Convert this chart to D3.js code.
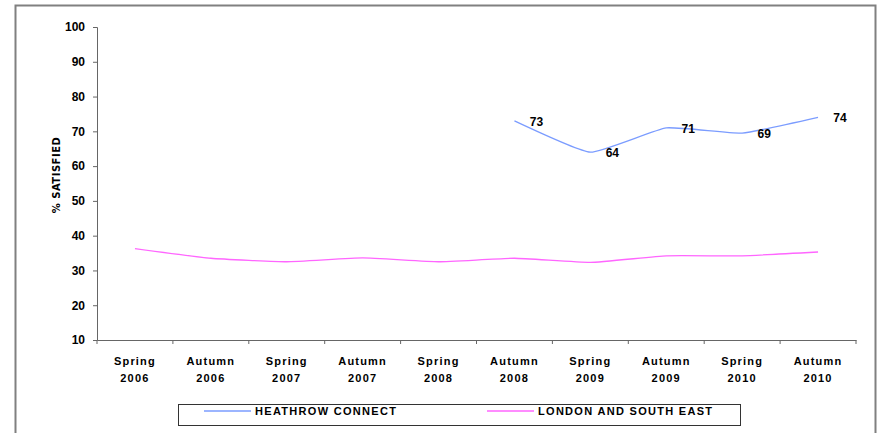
<!DOCTYPE html>
<html>
<head>
<meta charset="utf-8">
<script src="https://cdn.jsdelivr.net/npm/d3@7"></script>
<style>
  body { margin: 0; background: #fff; }
  svg { display: block; }
</style>
</head>
<body>
<div id="chart"></div>
<script>
var w = 882;
var h = 433;

// data
var seasons = ["Spring", "Autumn", "Spring", "Autumn", "Spring", "Autumn", "Spring", "Autumn", "Spring", "Autumn"];
var years = ["2006", "2006", "2007", "2007", "2008", "2008", "2009", "2009", "2010", "2010"];
var heathrowConnect = [null, null, null, null, null, 73, 64, 71, 69.5, 74];
var heathrowLabels = [null, null, null, null, null, "73", "64", "71", "69", "74"];
var londonSouthEast = [36.3, 33.5, 32.5, 33.6, 32.5, 33.5, 32.3, 34.2, 34.2, 35.3];
var yTicks = [10, 20, 30, 40, 50, 60, 70, 80, 90, 100];
var seriesNames = ["HEATHROW CONNECT", "LONDON AND SOUTH EAST"];
var seriesColors = ["#7b9cff", "#ff66ff"];

var margin = {left: 97, right: 26, top: 27, bottom: 93};
var iw = w - margin.left - margin.right; // plot width
var ih = h - margin.top - margin.bottom;

var svg = d3.select("#chart").append("svg").attr("width", w).attr("height", h);

// outer frame (no bottom edge visible)
svg.append("path")
    .attr("d", "M15.5,440 L15.5,5.5 L875.5,5.5 L875.5,440")
    .attr("fill", "none")
    .attr("stroke", "#808080")
    .attr("stroke-width", 2);

var idx = d3.range(seasons.length);
var x = d3.scaleBand().domain(idx).range([margin.left, margin.left + iw]);
var y = d3.scaleLinear().domain([10, 100]).range([margin.top + ih, margin.top]);

var cx = function (i) { return x(i) + x.bandwidth() / 2; };

// y axis
var yAxis = svg.append("g")
    .attr("transform", "translate(" + margin.left + ",0)")
    .call(d3.axisLeft(y).tickValues(yTicks).tickSize(4).tickPadding(8));
yAxis.select(".domain").attr("stroke", "#666");
yAxis.selectAll(".tick line").attr("stroke", "#666");
yAxis.selectAll("text")
    .attr("font-family", "'Liberation Sans', Arial, sans-serif")
    .attr("font-weight", "bold")
    .attr("font-size", 12)
    .attr("fill", "#000");

// x axis
var xAxis = svg.append("g")
    .attr("transform", "translate(0," + (margin.top + ih) + ")")
    .call(d3.axisBottom(x).tickSize(0).tickFormat(""));
xAxis.select(".domain").attr("stroke", "#666");
// tick marks at category boundaries
svg.append("g").selectAll("line")
    .data(d3.range(seasons.length + 1))
    .enter().append("line")
    .attr("x1", function (i) { return margin.left + i * x.step(); })
    .attr("x2", function (i) { return margin.left + i * x.step(); })
    .attr("y1", margin.top + ih)
    .attr("y2", margin.top + ih + 4)
    .attr("stroke", "#666");

var xl = svg.append("g").selectAll("text")
    .data(idx)
    .enter().append("text")
    .attr("text-anchor", "middle")
    .attr("font-family", "'Liberation Sans', Arial, sans-serif")
    .attr("font-weight", "bold")
    .attr("font-size", 11)
    .attr("letter-spacing", 1.2)
    .attr("fill", "#000");
xl.append("tspan")
    .attr("x", function (i) { return cx(i); })
    .attr("y", 365)
    .text(function (i) { return seasons[i]; });
xl.append("tspan")
    .attr("x", function (i) { return cx(i); })
    .attr("y", 382)
    .text(function (i) { return years[i]; });

// y axis title
svg.append("text")
    .attr("transform", "translate(60,175) rotate(-90)")
    .attr("text-anchor", "middle")
    .attr("font-family", "'DejaVu Sans', sans-serif")
    .attr("font-weight", "bold")
    .attr("font-size", 10)
    .attr("letter-spacing", 0.5)
    .attr("fill", "#000")
    .text("% SATISFIED");

// lines (Excel-style gentle smoothing)
var line = d3.line()
    .defined(function (d) { return d.v != null; })
    .x(function (d) { return cx(d.i); })
    .y(function (d) { return y(d.v); })
    .curve(d3.curveCardinal.tension(0.6));

var series = [heathrowConnect, londonSouthEast];
series.forEach(function (s, k) {
    var pts = s.map(function (v, i) { return {i: i, v: v}; });
    svg.append("path")
        .datum(pts)
        .attr("d", line)
        .attr("fill", "none")
        .attr("stroke", seriesColors[k])
        .attr("stroke-width", 1.3);
});

// data labels for Heathrow Connect
svg.append("g").selectAll("text")
    .data(idx.filter(function (i) { return heathrowConnect[i] != null; }))
    .enter().append("text")
    .attr("x", function (i) { return cx(i) + 22; })
    .attr("y", function (i) { return y(heathrowConnect[i]) + 5; })
    .attr("text-anchor", "middle")
    .attr("font-family", "'Liberation Sans', Arial, sans-serif")
    .attr("font-weight", "bold")
    .attr("font-size", 12)
    .attr("fill", "#000")
    .text(function (i) { return heathrowLabels[i]; });

// legend
var legend = svg.append("g");
legend.append("rect")
    .attr("x", 178.5).attr("y", 404.5)
    .attr("width", 562).attr("height", 21)
    .attr("fill", "#fff")
    .attr("stroke", "#333");
var legendX = [204, 487];
seriesNames.forEach(function (name, k) {
    legend.append("line")
        .attr("x1", legendX[k]).attr("x2", legendX[k] + 47)
        .attr("y1", 411).attr("y2", 411)
        .attr("stroke", seriesColors[k])
        .attr("stroke-width", 1.5);
    legend.append("text")
        .attr("x", legendX[k] + 51)
        .attr("y", 415)
        .attr("font-family", "'Liberation Sans', Arial, sans-serif")
        .attr("font-weight", "bold")
        .attr("font-size", 11)
        .attr("letter-spacing", 1.3)
        .attr("fill", "#000")
        .text(name);
});
</script>
</body>
</html>
